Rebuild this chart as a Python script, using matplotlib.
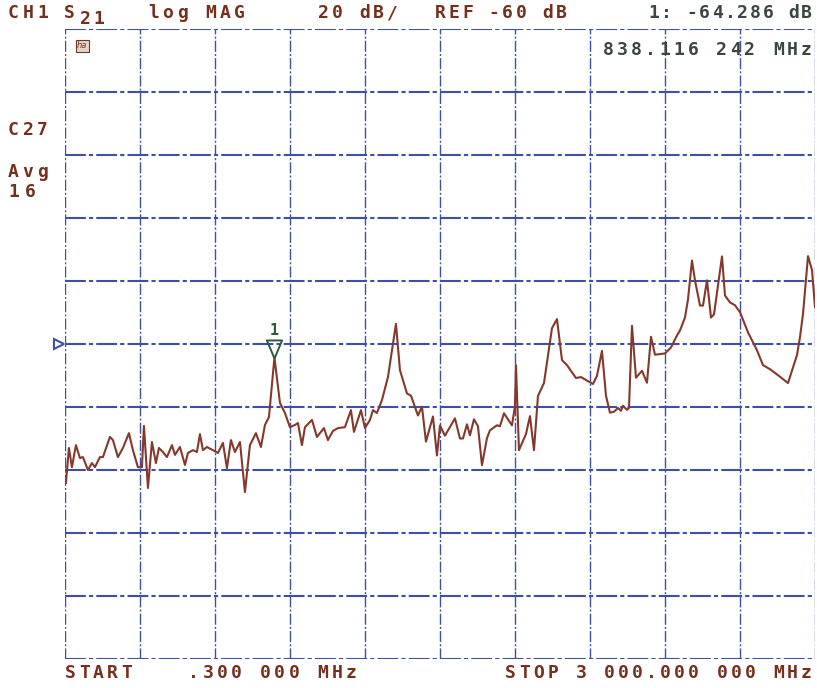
import numpy as np
import matplotlib.pyplot as plt
from matplotlib.path import Path

# sweep settings of the analyzer
f_start = 0.3      # MHz
f_stop = 3000.0    # MHz
ref_db = -60.0
db_per_div = 20.0

# S21 trace (MHz, dB)
freq = [4, 16, 28, 44, 60, 72, 92, 108, 120, 140, 152, 180, 192, 212, 232, 256,
        272, 292, 308, 316, 332, 348, 364, 376, 392, 408, 428, 440, 460, 480, 492,
        512, 528, 540, 552, 568, 592, 612, 632, 648, 664, 680, 700, 720,
        740, 764, 784, 800, 816, 838, 860, 880, 900, 920, 932, 948, 960, 988,
        1008, 1036, 1052, 1072, 1092, 1120, 1144, 1156, 1184, 1200, 1220, 1232,
        1248, 1268, 1292, 1324, 1340, 1368, 1384, 1412, 1428, 1444, 1472, 1488,
        1500, 1520, 1560, 1580, 1592, 1608, 1620, 1636, 1652, 1668, 1688, 1700,
        1728, 1740, 1756, 1788, 1800, 1804, 1816, 1844, 1860, 1876, 1892, 1916,
        1948, 1968, 1988, 2008, 2044, 2064, 2112, 2128, 2148, 2164, 2180, 2196,
        2212, 2224, 2232, 2248, 2256, 2268, 2284, 2308, 2328, 2344, 2360, 2400,
        2424, 2448, 2460, 2480, 2492, 2508, 2520, 2540, 2552, 2568, 2584, 2596,
        2628, 2640, 2660, 2680, 2700, 2732, 2768, 2792, 2820, 2852, 2892, 2928,
        2940, 2952, 2972, 2988, 3000]
s21 = [-104.1, -93.0, -99.1, -92.1, -96.2, -95.9, -100.0, -97.8, -99.1, -95.9,
       -95.9, -89.5, -90.5, -95.9, -93.0, -88.3, -93.7, -99.1, -99.1, -86.0,
       -105.7, -91.1, -97.8, -93.0, -94.3, -95.9, -92.1, -95.2, -92.7, -98.4,
       -94.6, -93.7, -94.3, -88.6, -93.7, -92.7, -93.7, -94.6, -91.4, -99.4,
       -90.5, -94.3, -91.1, -107.0,
       -92.1, -88.3, -92.7, -85.7, -83.2, -64.3, -78.7, -81.9, -86.4, -85.7,
       -85.1, -92.1, -86.4, -84.1, -89.5, -86.7, -90.5, -87.6, -86.7, -86.4,
       -81.0, -87.9, -81.0, -86.7, -84.1, -81.0, -81.9, -77.8, -70.5, -53.6,
       -68.3, -75.7, -76.4, -82.7, -79.9, -91.0, -83.0, -95.4, -85.9, -89.1,
       -83.6, -90.0, -90.0, -85.5, -89.0, -83.9, -86.1, -98.5, -89.9, -87.4,
       -85.8, -86.1, -82.0, -85.8, -79.7, -66.7, -93.7, -88.6, -82.9, -93.7,
       -76.5, -72.4, -55.0, -52.1, -65.1, -66.7, -70.8, -70.5, -72.7, -70.1,
       -62.2, -76.4, -81.8, -81.5, -80.3, -81.2, -79.6, -80.9, -80.3, -54.2,
       -70.7, -68.5, -72.3, -57.7, -63.4, -63.0, -61.1, -57.3, -55.7, -51.6,
       -45.9, -33.5, -39.8, -47.8, -47.8, -39.8, -51.6, -50.6, -32.2, -44.6,
       -46.8, -47.7, -49.9, -56.3, -62.0, -66.7, -68.0, -69.9, -72.4, -63.5,
       -57.8, -50.5, -32.1, -36.5, -48.3]

mkr_freq = 838.116242
mkr_db = -64.286

grid_col = '#3f4fa6'
trace_col = '#84392c'
text_col = '#74301f'
mkr_col = '#2f5a40'
W, H = 817, 688

fig = plt.figure(figsize=(W / 100, H / 100), dpi=100)
ax = fig.add_axes([65 / W, 29 / H, 750 / W, 630 / H])
ax.set_xlim(f_start, f_stop)
ax.set_ylim(ref_db - 5 * db_per_div, ref_db + 5 * db_per_div)
ax.axis('off')

# graticule, 10 x 10 divisions
for xv in np.linspace(f_start, f_stop, 11):
    ax.axvline(xv, color=grid_col, lw=1.0, dashes=(8, 1.5, 1.5, 1.5), zorder=1)
for yv in np.linspace(ref_db - 5 * db_per_div, ref_db + 5 * db_per_div, 11):
    ax.axhline(yv, color=grid_col, lw=1.5, dashes=(10, 1.5, 2, 1.5), zorder=1)

ax.plot(freq, s21, color=trace_col, lw=1.5, zorder=3)

# reference position marker on the left edge
ax.plot([-0.008], [ref_db], marker='>', ms=7, mfc='none', mec=grid_col, mew=1.5,
        transform=ax.get_yaxis_transform(), clip_on=False, zorder=4)

# marker 1: open triangle with its tip on the trace
tri = Path([(0, 0), (-0.42, 1), (0.42, 1), (0, 0)],
           [Path.MOVETO, Path.LINETO, Path.LINETO, Path.CLOSEPOLY])
ax.plot([mkr_freq], [mkr_db], marker=tri, ms=26, mfc='none', mec=mkr_col,
        mew=1.4, zorder=5)
ax.annotate('1', (mkr_freq, mkr_db), xytext=(0, 14), textcoords='offset points',
            ha='center', va='bottom', color=mkr_col, fontsize=11,
            family='DejaVu Sans Mono', weight='bold')


# plotter style text: each character in its own fixed cell
def put(x0, x1, y, s, color=text_col, size=13):
    n = len(s)
    gw = 11.0
    step = (x1 - x0 - gw) / max(n - 1, 1)
    for i, ch in enumerate(s):
        if ch == ' ':
            continue
        cx = x0 + gw / 2 + i * step
        fig.text(cx / W, 1 - y / H, ch, family='DejaVu Sans Mono', weight='bold',
                 fontsize=size, color=color, ha='center', va='center')


put(8, 48, 13, 'CH1')
put(64, 78, 13, 'S')
put(80, 104, 19, '21')
put(148, 245, 13, 'log MAG')
put(318, 398, 13, '20 dB/')
put(435, 567, 13, 'REF -60 dB')
put(648, 812, 13, '1: -64.286 dB', color='#3b463e')
put(603, 812, 50, '838.116 242 MHz', color='#3b463e')
put(8, 48, 130, 'C27')
put(8, 48, 172, 'Avg')
put(8, 36, 192, '16')
put(65, 132, 673, 'START')
put(188, 357, 673, '.300 000 MHz')
put(505, 812, 673, 'STOP 3 000.000 000 MHz')
fig.text(77 / W, 1 - 46 / H, 'ha', fontsize=6, style='italic', color='#6a3a2a',
         va='center', ha='left',
         bbox=dict(boxstyle='square,pad=0.15', fc='#e9d2c6', ec='#6a3a2a', lw=0.8))

fig.savefig('out.png', dpi=100)
